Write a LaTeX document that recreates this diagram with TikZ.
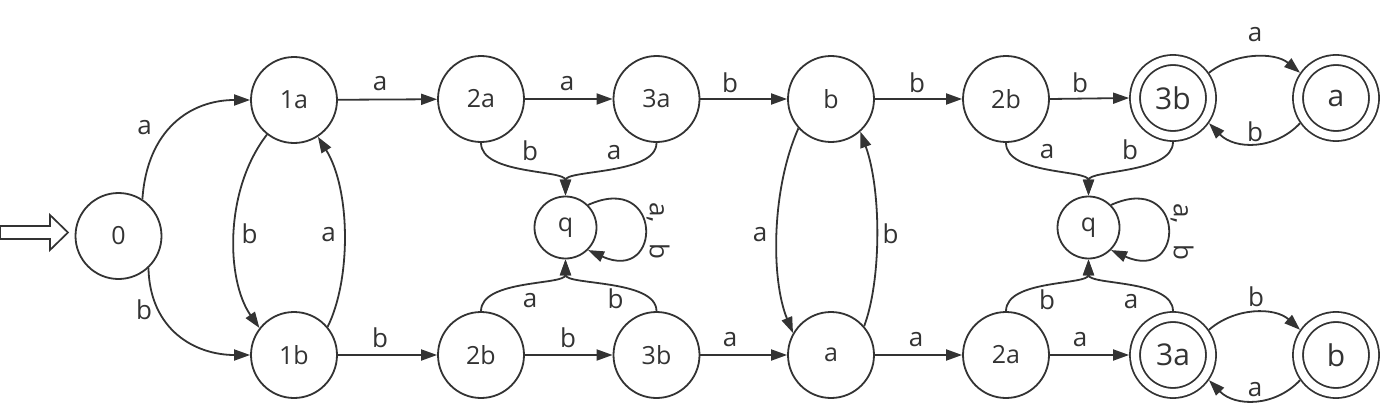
\documentclass[tikz,border=0pt]{standalone}
\usepackage{fontspec}
\setmainfont{Open Sans}
\usetikzlibrary{arrows.meta}
\definecolor{ink}{HTML}{333333}
\begin{document}
\begin{tikzpicture}[x=1pt,y=-1pt,
  state/.style={circle,draw=ink,line width=1.8pt,minimum size=86pt,inner sep=0pt,text=ink,font=\fontsize{25}{25}\selectfont},
  qstate/.style={circle,draw=ink,line width=1.8pt,minimum size=62pt,inner sep=0pt,text=ink,font=\fontsize{25}{25}\selectfont},
  final/.style={circle,draw=ink,line width=1.8pt,double=white,double distance=8.2pt,minimum size=76pt,outer sep=5.9pt,inner sep=0pt,text=ink,font=\fontsize{30}{30}\selectfont},
  lbl/.style={inner sep=0pt,text=ink,font=\fontsize{26}{26}\selectfont},
  arr/.style={draw=ink,line width=1.8pt,-{Triangle[length=16pt,width=11pt]}},
]
\useasboundingbox (0,0) rectangle (1381,412);
% start arrow
\coordinate (s0) at (0,232.5);
\draw[ink,line width=1.7pt,line join=miter] (0,226) -- (50,226) -- (50,215) -- (68,232.5) -- (50,250) -- (50,239) -- (0,239) -- cycle;
% states
\node[state] (n0) at (118.5,236) {0};
\node[state] (n1a) at (294,100) {1a};
\node[state] (n1b) at (294,355) {1b};
\node[state] (t2a) at (481,99) {2a};
\node[state] (t3a) at (656.5,99) {3a};
\node[state] (tb) at (831,99) {b};
\node[state] (t2b) at (1006,99) {2b};
\node[final] (t3b) at (1173,98) {3b};
\node[final] (ta) at (1336,98) {a};
\node[state] (b2b) at (481,355) {2b};
\node[state] (b3b) at (656.5,355) {3b};
\node[state] (ba) at (831,355) {a};
\node[state] (b2a) at (1006,355) {2a};
\node[final] (b3a) at (1173,355) {3a};
\node[final] (bb) at (1336,355) {b};
\node[qstate] (q1) at (565.5,227.5) {q};
\node[qstate] (q2) at (1088.5,227.5) {q};
% edges from 0
\draw[arr] (n0.57) .. controls (147,130) and (190,100) .. (n1a.west);
\draw[arr] (n0.-47) .. controls (150,330) and (195,355) .. (n1b.west);
\node[lbl] (l0a) at (144.5,127.5) {a};
\node[lbl] (l0b) at (144,310) {b};
% 1a <-> 1b
\draw[arr] (n1a.-128) .. controls (224,190) and (226,280) .. (n1b.142);
\draw[arr] (n1b.40) .. controls (351,280) and (351,190) .. (n1a.-57);
\node[lbl] (l1ab) at (249.5,234) {b};
\node[lbl] (l1ba) at (328.5,235) {a};
% top row
\draw[arr] (n1a) -- (t2a);
\draw[arr] (t2a) -- (t3a);
\draw[arr] (t3a) -- (tb);
\draw[arr] (tb) -- (t2b);
\draw[arr] (t2b.east) -- (t3b.west);
\node[lbl] (lt1) at (380,83.5) {a};
\node[lbl] (lt2) at (567,83.5) {a};
\node[lbl] (lt3) at (730,83) {b};
\node[lbl] (lt4) at (917,83) {b};
\node[lbl] (lt5) at (1080,83) {b};
% bottom row
\draw[arr] (n1b) -- (b2b);
\draw[arr] (b2b) -- (b3b);
\draw[arr] (b3b) -- (ba);
\draw[arr] (ba) -- (b2a);
\draw[arr] (b2a.east) -- (b3a.west);
\node[lbl] (lb1) at (380,338) {b};
\node[lbl] (lb2) at (568,338) {b};
\node[lbl] (lb3) at (730,340) {a};
\node[lbl] (lb4) at (916,340) {a};
\node[lbl] (lb5) at (1080,339.5) {a};
% b <-> a middle
\draw[arr] (tb.-138) .. controls (771,190) and (771,280) .. (ba.150);
\draw[arr] (ba.41) .. controls (881.5,280) and (881.5,190) .. (tb.-48);
\node[lbl] (lm1) at (760,235) {a};
\node[lbl] (lm2) at (890.5,234) {b};
% into q1
\draw[arr] (t2a.south) .. controls +(0,32) and +(0,-26) .. (q1.north);
\draw[arr] (t3a.south) .. controls +(0,32) and +(0,-26) .. (q1.north);
\draw[arr] (b2b.north) .. controls +(0,-32) and +(0,26) .. (q1.south);
\draw[arr] (b3b.north) .. controls +(0,-32) and +(0,26) .. (q1.south);
\node[lbl] (lq1a) at (530,151) {b};
\node[lbl] (lq1b) at (614,152.5) {a};
\node[lbl] (lq1c) at (530,300.5) {a};
\node[lbl] (lq1d) at (615.5,299) {b};
\draw[arr] (q1.45) .. controls +(75,-34) and +(75,34) .. (q1.-45);
\node[lbl,rotate=-90] (lq1e) at (658,231) {a,\hspace{0.8em}b};
% into q2
\draw[arr] (t2b.south) .. controls +(0,32) and +(0,-26) .. (q2.north);
\draw[arr] (t3b.south) .. controls +(0,32) and +(0,-26) .. (q2.north);
\draw[arr] (b2a.north) .. controls +(0,-32) and +(0,26) .. (q2.south);
\draw[arr] (b3a.north) .. controls +(0,-32) and +(0,26) .. (q2.south);
\node[lbl] (lq2a) at (1047,152) {a};
\node[lbl] (lq2b) at (1130,150) {b};
\node[lbl] (lq2c) at (1047,300) {b};
\node[lbl] (lq2d) at (1131,302) {a};
\draw[arr] (q2.45) .. controls +(75,-34) and +(75,34) .. (q2.-45);
\node[lbl,rotate=-90] (lq2e) at (1182,232) {a,\hspace{0.8em}b};
% final pairs
\draw[arr] (t3b.35) .. controls (1235,52) and (1275,52) .. (ta.145);
\draw[arr] (ta.-145) .. controls (1275,150) and (1235,150) .. (t3b.-35);
\node[lbl] (lf1) at (1255,34.5) {a};
\node[lbl] (lf2) at (1255,132) {b};
\draw[arr] (b3a.35) .. controls (1235,307) and (1275,307) .. (bb.145);
\draw[arr] (bb.-145) .. controls (1275,407) and (1235,407) .. (b3a.-35);
\node[lbl] (lf3) at (1256,297) {b};
\node[lbl] (lf4) at (1255,390) {a};
\end{tikzpicture}
\end{document}
